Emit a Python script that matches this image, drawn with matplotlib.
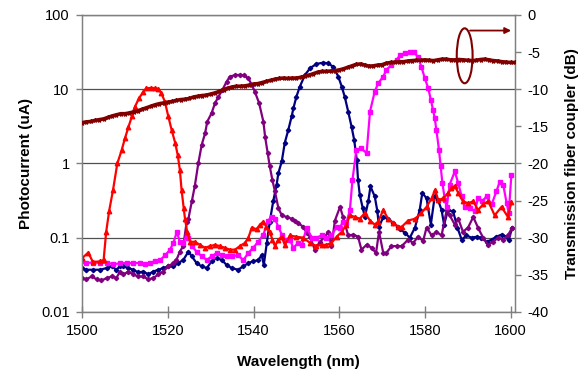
import numpy as np
import matplotlib
matplotlib.use("Agg")
import matplotlib.pyplot as plt
from matplotlib.patches import Ellipse
from matplotlib.ticker import NullLocator

plt.rcParams['font.family'] = ['Liberation Sans', 'DejaVu Sans']

# photocurrent (uA) of the four detectors
red_wl = [1500, 1501.4, 1502.5, 1504.2, 1505, 1505.6, 1506.3, 1507.2, 1508.2, 1509.2, 1510, 1510.8,
          1511.6, 1512.3, 1513.3, 1514.3, 1515, 1516, 1517, 1517.8, 1518.5, 1519.3, 1520.1, 1520.9,
          1521.7, 1522.3, 1522.8, 1523.2, 1523.7, 1524, 1524.5, 1525.2, 1526.3, 1527.5, 1528.7, 1529.8,
          1531, 1532.2, 1533.3, 1534.5, 1535.7, 1536.8, 1538, 1538.8, 1539.6, 1540.7, 1541.5, 1542.3,
          1543, 1543.8, 1544.4, 1545, 1545.8, 1546.6, 1547.3, 1548.5, 1550, 1551.6, 1553.2, 1554.7,
          1555.9, 1557, 1558.2, 1559.4, 1560.6, 1561.7, 1562.5, 1563.7, 1564.8, 1566, 1567.2, 1568.3,
          1569.1, 1570.3, 1571.4, 1572.6, 1573.8, 1574.6, 1576.1, 1577.7, 1579.2, 1580.4, 1581.6, 1582.4,
          1583.1, 1584.3, 1585.4, 1586.2, 1587, 1587.8, 1588.9, 1590.1, 1591.3, 1592.4, 1593.6, 1594.8,
          1596.3, 1597.9, 1599.4, 1600.2]
red_ua = [0.053, 0.063, 0.047, 0.048, 0.05, 0.12, 0.23, 0.44, 1.0, 1.5, 2.2, 3.1,
          4.3, 5.8, 7.6, 9.3, 10.3, 10.4, 10.3, 10.1, 8.8, 6.8, 4.3, 2.8,
          1.9, 1.3, 0.82, 0.44, 0.25, 0.18, 0.12, 0.088, 0.088, 0.08, 0.073, 0.077,
          0.08, 0.077, 0.073, 0.069, 0.069, 0.077, 0.085, 0.1, 0.137, 0.13, 0.15, 0.165,
          0.14, 0.12, 0.094, 0.077, 0.094, 0.103, 0.08, 0.107, 0.103, 0.1, 0.085, 0.077,
          0.08, 0.08, 0.085, 0.103, 0.12, 0.15, 0.2, 0.19, 0.18, 0.215, 0.17, 0.15,
          0.165, 0.236, 0.18, 0.158, 0.14, 0.14, 0.17, 0.18, 0.215, 0.26, 0.34, 0.44,
          0.32, 0.34, 0.4, 0.46, 0.5, 0.4, 0.31, 0.29, 0.31, 0.236, 0.28, 0.31,
          0.2, 0.26, 0.19, 0.3]

purple_wl = [1500, 1501, 1502.2, 1503.4, 1504.5, 1505.7, 1506.9, 1508, 1508.8, 1509.6, 1510.8, 1511.9,
             1513.1, 1514.3, 1515.4, 1516.6, 1517.8, 1518.9, 1520.1, 1521.3, 1522, 1522.8, 1523.6, 1524.4,
             1524.8, 1525.6, 1526.3, 1527.1, 1527.9, 1528.7, 1529.2, 1530.2, 1531, 1531.8, 1532.7, 1533.7,
             1534.5, 1535.7, 1536.8, 1537.8, 1538.8, 1539.6, 1540.3, 1541.3, 1542.3, 1542.7, 1543.3, 1543.8,
             1544.4, 1545, 1545.8, 1546.6, 1547.7, 1548.9, 1549.7, 1550.4, 1551.6, 1552.4, 1553.2, 1554.3,
             1555.5, 1556.7, 1557.4, 1558.2, 1559, 1560.2, 1560.9, 1562.1, 1563.3, 1564.4, 1565.2, 1566.4,
             1567.6, 1568.6, 1569.3, 1570.3, 1571, 1572.2, 1573.4, 1574.6, 1576.1, 1577.3, 1578.4, 1579.6,
             1580.4, 1581.6, 1582.7, 1583.9, 1585.1, 1585.8, 1587, 1587.8, 1588.9, 1590.1, 1591.3, 1592.4,
             1593.6, 1594.8, 1595.9, 1597.1, 1598.3, 1599.4, 1600.4]
purple_ua = [0.0286, 0.0275, 0.03, 0.0275, 0.0265, 0.0286, 0.03, 0.0286, 0.035, 0.032, 0.035, 0.032,
             0.03, 0.03, 0.0275, 0.0286, 0.032, 0.035, 0.041, 0.0455, 0.05, 0.065, 0.077, 0.165,
             0.18, 0.31, 0.5, 1.0, 1.78, 2.56, 3.66, 4.75, 6.46, 7.9, 9.7, 12.6,
             14.8, 15.5, 15.6, 15.3, 14.0, 11.4, 9.3, 6.5, 3.66, 2.3, 1.38, 0.91,
             0.6, 0.42, 0.25, 0.2, 0.19, 0.18, 0.17, 0.158, 0.14, 0.117, 0.103, 0.069,
             0.088, 0.103, 0.12, 0.077, 0.17, 0.26, 0.19, 0.107, 0.11, 0.103, 0.069, 0.08,
             0.073, 0.062, 0.12, 0.062, 0.062, 0.077, 0.077, 0.077, 0.094, 0.085, 0.103, 0.09,
             0.137, 0.107, 0.12, 0.107, 0.236, 0.2, 0.15, 0.18, 0.12, 0.137, 0.19, 0.137,
             0.1, 0.08, 0.088, 0.1, 0.094, 0.107, 0.137]

navy_wl = [1500, 1501, 1502.6, 1504.2, 1505.7, 1506.9, 1508, 1508.8, 1509.6, 1510.8, 1511.9, 1513.1,
           1514.3, 1515.4, 1516.6, 1517.8, 1518.9, 1520.1, 1521.3, 1522.4, 1523.6, 1524.8, 1525.6, 1526.7,
           1527.9, 1529.1, 1530.2, 1531.4, 1532.6, 1533.7, 1534.9, 1536.4, 1537.6, 1538.8, 1539.9, 1541.1,
           1541.9, 1542.4, 1543.1, 1543.8, 1544.6, 1545.4, 1545.8, 1546.6, 1547.3, 1548.1, 1548.9, 1549.3,
           1550, 1550.8, 1552, 1553.2, 1554.7, 1556.3, 1557.4, 1558.6, 1559.8, 1560.6, 1561.3, 1562.1,
           1562.9, 1563.5, 1564.1, 1564.4, 1564.8, 1565.5, 1566, 1566.8, 1567.3, 1568.3, 1568.9, 1569.3,
           1570.3, 1571.4, 1572.6, 1573.8, 1574.2, 1575.3, 1576.5, 1577.7, 1578.8, 1579.4, 1580.4, 1581.4,
           1582.3, 1583.1, 1583.9, 1584.5, 1585.4, 1586.6, 1587.6, 1588.6, 1589.7, 1590.9, 1592.1, 1593.2,
           1594.4, 1595.6, 1596.7, 1597.9, 1599.1, 1599.6, 1600.4]
navy_ua = [0.039, 0.037, 0.037, 0.037, 0.039, 0.041, 0.037, 0.041, 0.041, 0.039, 0.037, 0.034,
           0.035, 0.032, 0.035, 0.037, 0.039, 0.041, 0.041, 0.0455, 0.05, 0.065, 0.056, 0.0455,
           0.041, 0.039, 0.048, 0.053, 0.05, 0.043, 0.039, 0.037, 0.041, 0.0455, 0.048, 0.05,
           0.058, 0.043, 0.085, 0.165, 0.31, 0.52, 0.74, 1.07, 1.9, 2.8, 4.3, 5.5,
           7.9, 10.8, 15.5, 19.2, 21.9, 22.8, 22.3, 20.1, 14.8, 10.8, 7.9, 5.0,
           3.1, 2.08, 1.12, 0.6, 0.38, 0.25, 0.19, 0.31, 0.49, 0.36, 0.23, 0.14,
           0.19, 0.18, 0.158, 0.14, 0.13, 0.117, 0.1, 0.137, 0.236, 0.4, 0.34, 0.15,
           0.36, 0.32, 0.236, 0.15, 0.236, 0.226, 0.137, 0.094, 0.107, 0.1, 0.103, 0.1,
           0.088, 0.094, 0.103, 0.11, 0.103, 0.094, 0.137]

magenta_wl = [1500, 1501, 1502.6, 1504.2, 1505.7, 1507.3, 1508.8, 1510.4, 1511.9, 1513.5, 1514.7, 1515.8,
              1517, 1518.2, 1519.4, 1520.5, 1521.3, 1522.1, 1522.8, 1523.6, 1524.4, 1524.8, 1525.6, 1526.7,
              1527.9, 1529.1, 1530.2, 1531.4, 1532.6, 1533.7, 1534.9, 1536.4, 1537.6, 1538.8, 1539.9, 1541.1,
              1542.3, 1543.4, 1544.2, 1545, 1545.8, 1546.6, 1547.3, 1548.5, 1549.3, 1550.4, 1551.3, 1552.4,
              1553.6, 1554.7, 1555.9, 1557, 1558.2, 1559.4, 1560.2, 1560.9, 1561.7, 1562.5, 1563.1, 1564,
              1565.1, 1566.4, 1567.2, 1568.3, 1569.1, 1570.3, 1571, 1572.2, 1573.4, 1574.3, 1575.3, 1576.5,
              1577.5, 1578.4, 1579.2, 1580, 1580.8, 1581.4, 1581.9, 1582.3, 1582.7, 1583.3, 1583.7, 1584.1,
              1584.7, 1585.1, 1585.8, 1587, 1587.8, 1588.6, 1589.3, 1590.5, 1591.7, 1592.4, 1593.4, 1594.4,
              1595.6, 1596.7, 1597.5, 1598.3, 1599.1, 1599.6, 1600.2]
magenta_ua = [0.048, 0.046, 0.046, 0.046, 0.046, 0.044, 0.045, 0.046, 0.045, 0.046, 0.044, 0.046,
              0.048, 0.05, 0.058, 0.069, 0.085, 0.12, 0.088, 0.085, 0.11, 0.1, 0.077, 0.065,
              0.056, 0.05, 0.056, 0.062, 0.058, 0.056, 0.056, 0.058, 0.05, 0.062, 0.073, 0.088,
              0.11, 0.17, 0.19, 0.18, 0.14, 0.11, 0.094, 0.094, 0.073, 0.085, 0.08, 0.137,
              0.1, 0.1, 0.107, 0.1, 0.107, 0.14, 0.137, 0.165, 0.16, 0.236, 0.6, 1.5,
              1.6, 1.38, 5.0, 9.3, 12.0, 14.8, 18.2, 21.2, 25.0, 29.0, 30.5, 32.0,
              31.5, 27.0, 20.0, 14.0, 10.3, 7.2, 5.3, 4.1, 2.8, 1.53, 0.91, 0.54,
              0.32, 0.26, 0.52, 0.78, 0.54, 0.36, 0.26, 0.25, 0.226, 0.34, 0.31, 0.36,
              0.28, 0.42, 0.57, 0.52, 0.29, 0.215, 0.7]

# fiber coupler transmission (dB), 1 nm steps
coupler_wl = np.arange(1500, 1602)
coupler_db = [-14.5, -14.4, -14.35, -14.2, -14.1, -14.0, -13.8, -13.6, -13.45, -13.3,
              -13.3, -13.2, -13.05, -12.9, -12.7, -12.5, -12.3, -12.1, -11.95, -11.85,
              -11.75, -11.65, -11.5, -11.4, -11.35, -11.25, -11.05, -10.95, -10.85, -10.8,
              -10.65, -10.5, -10.3, -10.05, -9.85, -9.7, -9.6, -9.6, -9.55, -9.45,
              -9.3, -9.25, -9.1, -8.95, -8.8, -8.65, -8.55, -8.5, -8.55, -8.5,
              -8.5, -8.4, -8.25, -8.1, -7.9, -7.7, -7.6, -7.6, -7.55, -7.5,
              -7.4, -7.25, -7.05, -6.85, -6.65, -6.6, -6.75, -6.9, -6.85, -6.75,
              -6.7, -6.5, -6.4, -6.35, -6.3, -6.3, -6.2, -6.15, -6.1, -6.1,
              -6.05, -6.1, -6.15, -6.05, -5.95, -5.95, -6.05, -6.05, -6.0, -6.05,
              -6.1, -6.15, -6.1, -6.0, -5.95, -6.05, -6.15, -6.2, -6.3, -6.35,
              -6.4, -6.4]

left_ticks = [0.01, 0.1, 1, 10, 100]
left_labels = ['0.01', '0.1', '1', '10', '100']
x_ticks = [1500, 1520, 1540, 1560, 1580, 1600]
right_ticks = [-40, -35, -30, -25, -20, -15, -10, -5, 0]

grey = '#808080'

fig = plt.figure(figsize=(5.83, 3.74), dpi=100)
ax = fig.add_axes([0.141, 0.166, 0.742, 0.794])

ax.plot(navy_wl, navy_ua, color='#000080', lw=1.6, marker='D', ms=2.2, zorder=3)
ax.plot(purple_wl, purple_ua, color='#800080', lw=1.6, marker='D', ms=2.2, zorder=3)
ax.plot(magenta_wl, magenta_ua, color='#FF00FF', lw=1.6, marker='s', ms=3.4, zorder=3)
ax.plot(red_wl, red_ua, color='#FF0000', lw=1.6, marker='^', ms=3.2, zorder=3)

ax.set_yscale('log')
ax.set_ylim(0.01, 100)
ax.set_xlim(1500, 1601)
ax.set_yticks(left_ticks)
ax.set_yticklabels(left_labels)
ax.yaxis.set_minor_locator(NullLocator())
ax.set_xticks(x_ticks)
ax.grid(axis='y', color='#505050', lw=0.9)
ax.set_axisbelow(True)

for side in ['left', 'bottom', 'top', 'right']:
    ax.spines[side].set_color(grey)
    ax.spines[side].set_linewidth(1.0)

ax.tick_params(axis='x', direction='inout', length=8, width=1, color=grey, labelsize=10.5, pad=5)
ax.tick_params(axis='y', direction='out', length=4, width=1, color=grey, labelsize=10.5, pad=5)
ax.set_xlabel('Wavelength (nm)', fontsize=11, fontweight='bold', labelpad=12)
ax.set_ylabel('Photocurrent (uA)', fontsize=11, fontweight='bold', labelpad=6)

ax2 = ax.twinx()
ax2.plot(coupler_wl, coupler_db, color='#800000', lw=2.6, marker='*', ms=3.0, zorder=4)
ax2.set_ylim(-40, 0)
ax2.set_yticks(right_ticks)
ax2.set_yticklabels([str(t) for t in right_ticks])
ax2.tick_params(axis='y', direction='out', length=4, width=1, color=grey, labelsize=10.5, pad=5)
for side in ['left', 'bottom', 'top', 'right']:
    ax2.spines[side].set_color(grey)
ax2.set_ylabel('Transmission fiber coupler (dB)', fontsize=11, fontweight='bold', labelpad=12)

# ellipse + arrow pointing to the right axis
ax2.add_patch(Ellipse((1589.3, -5.5), 3.7, 7.4, fill=False, edgecolor='#800000', lw=1.5, zorder=5))
ax2.annotate('', xy=(1600.8, -2.1), xytext=(1589.9, -2.1),
             arrowprops=dict(arrowstyle='-|>', color='#800000', lw=1.3, mutation_scale=9),
             annotation_clip=False)

fig.savefig('out.png', dpi=100)
